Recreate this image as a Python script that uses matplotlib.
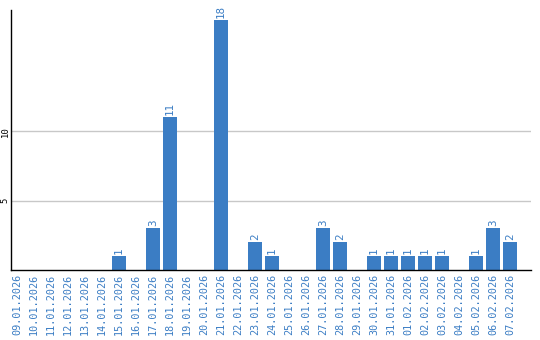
import matplotlib
matplotlib.use("Agg")
import matplotlib.pyplot as plt
import numpy as np

# Tage und Anzahl
dates = ['09.01.2026', '10.01.2026', '11.01.2026', '12.01.2026', '13.01.2026',
         '14.01.2026', '15.01.2026', '16.01.2026', '17.01.2026', '18.01.2026',
         '19.01.2026', '20.01.2026', '21.01.2026', '22.01.2026', '23.01.2026',
         '24.01.2026', '25.01.2026', '26.01.2026', '27.01.2026', '28.01.2026',
         '29.01.2026', '30.01.2026', '31.01.2026', '01.02.2026', '02.02.2026',
         '03.02.2026', '04.02.2026', '05.02.2026', '06.02.2026', '07.02.2026']
counts = [0, 0, 0, 0, 0, 0, 1, 0, 3, 11, 0, 0, 18, 0, 2, 1, 0, 0, 3, 2,
          0, 1, 1, 1, 1, 1, 0, 1, 3, 2]
yticks = [5, 10]

blue = '#3b7dc4'
mono = 'DejaVu Sans Mono'

fig = plt.figure(figsize=(5.4, 3.4), dpi=100)
ax = fig.add_axes([11/540, 70/340, 520/540, 260/340])

x = np.arange(len(dates))
ax.bar(x, counts, width=0.82, color=blue, zorder=2)

for xi, c in zip(x, counts):
    if c > 0:
        ax.annotate(str(c), (xi, c), xytext=(0, 1.5), textcoords='offset points',
                    rotation=90, ha='center', va='bottom', color=blue,
                    fontsize=7.8, family=mono)

ax.set_xlim(-0.353, len(dates) - 1 + 21/17)
ax.set_ylim(0, 18.75)

ax.set_xticks(x)
ax.set_xticklabels(dates, rotation=90, color=blue, fontsize=7.3, family=mono)
ax.set_yticks(yticks)
ax.set_yticklabels([str(t) for t in yticks], rotation=90, fontsize=6.4,
                   family=mono, va='center')
ax.tick_params(axis='both', length=0)
ax.tick_params(axis='x', pad=3)
ax.tick_params(axis='y', pad=1)

ax.grid(axis='y', color='#c8c8c8', linewidth=1, zorder=0)
ax.spines['top'].set_visible(False)
ax.spines['right'].set_visible(False)
ax.spines['left'].set_linewidth(1.0)
ax.spines['bottom'].set_linewidth(1.0)

fig.savefig('out.png', dpi=100)
